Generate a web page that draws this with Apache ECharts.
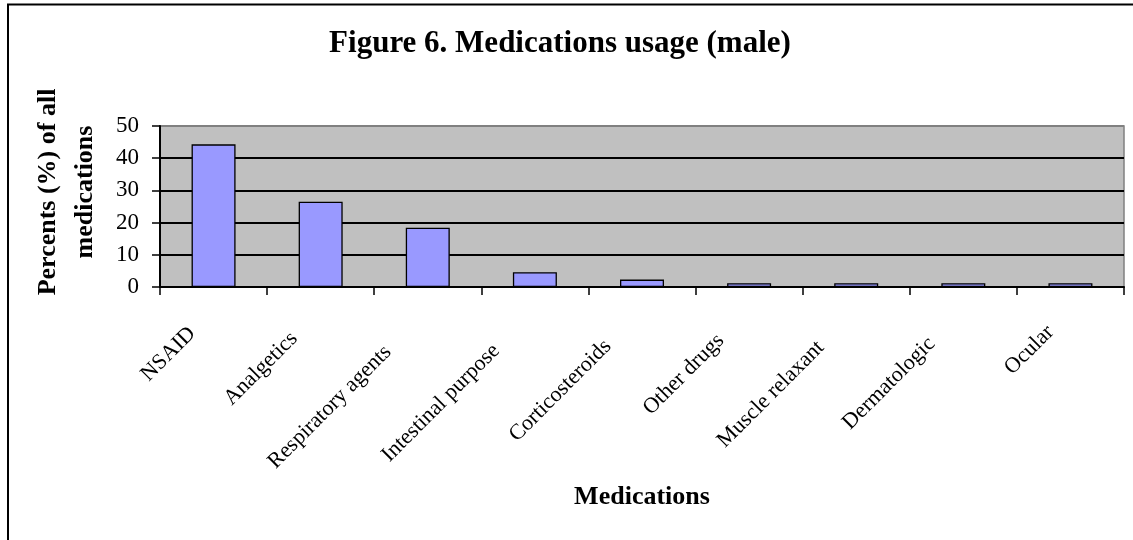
<!DOCTYPE html>
<html>
<head>
<meta charset="utf-8">
<script src="https://cdn.jsdelivr.net/npm/echarts@6/dist/echarts.min.js"></script>
<style>
  html, body { margin: 0; padding: 0; background: #fff; }
  #main { width: 1133px; height: 540px; }
</style>
</head>
<body>
<div id="main"></div>
<script>
const categories = [
  'NSAID', 'Analgetics', 'Respiratory agents', 'Intestinal purpose',
  'Corticosteroids', 'Other drugs', 'Muscle relaxant', 'Dermatologic', 'Ocular'
];
const percents = [44.3, 26.5, 18.4, 4.6, 2.3, 1.2, 1.2, 1.2, 1.2];
const yTicks = [0, 10, 20, 30, 40, 50];

const serif = "'Liberation Serif', 'Times New Roman', serif";
const labelSize = 22;

// Excel pulls longer rotated labels further back along their baseline
const measureCtx = document.createElement('canvas').getContext('2d');
measureCtx.font = labelSize + 'px ' + serif;
const labelRich = {};
categories.forEach((c, i) => {
  const w = measureCtx.measureText(c).width;
  labelRich['c' + i] = {
    fontFamily: serif,
    fontSize: labelSize,
    color: '#000',
    padding: [0, 12 + 0.27 * w, 0, 0]
  };
});

const chart = echarts.init(document.getElementById('main'));

const option = {
  animation: false,
  backgroundColor: '#fff',
  graphic: [
    {
      type: 'rect',
      shape: { x: 8, y: 4.5, width: 1200, height: 600 },
      style: { fill: 'none', stroke: '#000', lineWidth: 2 },
      silent: true
    },
    {
      type: 'text',
      x: 560,
      y: 44,
      style: {
        text: 'Figure 6. Medications usage (male)',
        font: 'bold 31px ' + serif,
        fill: '#000',
        align: 'center',
        verticalAlign: 'middle'
      }
    },
    {
      type: 'text',
      x: 67,
      y: 192,
      rotation: Math.PI / 2,
      style: {
        text: 'Percents (%) of all\nmedications',
        font: 'bold 26px ' + serif,
        lineHeight: 37,
        fill: '#000',
        align: 'center',
        verticalAlign: 'middle'
      }
    }
  ],
  grid: {
    left: 160,
    right: 9,
    top: 126,
    bottom: 253,
    show: true,
    backgroundColor: '#C0C0C0',
    borderColor: '#808080',
    borderWidth: 1.5
  },
  xAxis: {
    type: 'category',
    data: categories,
    name: 'Medications',
    nameLocation: 'middle',
    nameGap: 210,
    nameTextStyle: {
      fontFamily: serif,
      fontWeight: 'bold',
      fontSize: 26,
      color: '#000',
      verticalAlign: 'middle'
    },
    axisLine: { lineStyle: { color: '#000', width: 2 } },
    axisTick: { show: true, interval: 0, length: 8, lineStyle: { color: '#000', width: 1.5 } },
    axisLabel: {
      interval: 0,
      rotate: 45,
      margin: 22,
      fontFamily: serif,
      fontSize: labelSize,
      color: '#000',
      formatter: (value, index) => '{c' + index + '|' + value + '}',
      rich: labelRich
    }
  },
  yAxis: {
    type: 'value',
    min: yTicks[0],
    max: yTicks[yTicks.length - 1],
    interval: 10,
    axisLine: { show: true, lineStyle: { color: '#000', width: 2 } },
    axisTick: { show: true, length: 8, lineStyle: { color: '#000', width: 1.5 } },
    axisLabel: {
      margin: 21,
      fontFamily: serif,
      fontSize: 23,
      color: '#000'
    },
    splitLine: {
      show: true,
      lineStyle: {
        color: ['#000', '#000', '#000', '#000', '#000', '#808080'],
        width: 2
      }
    }
  },
  series: [
    {
      type: 'bar',
      data: percents,
      barWidth: 44,
      itemStyle: { color: '#9999FF', borderColor: '#000', borderWidth: 1.3 }
    }
  ]
};

chart.setOption(option);
</script>
</body>
</html>
